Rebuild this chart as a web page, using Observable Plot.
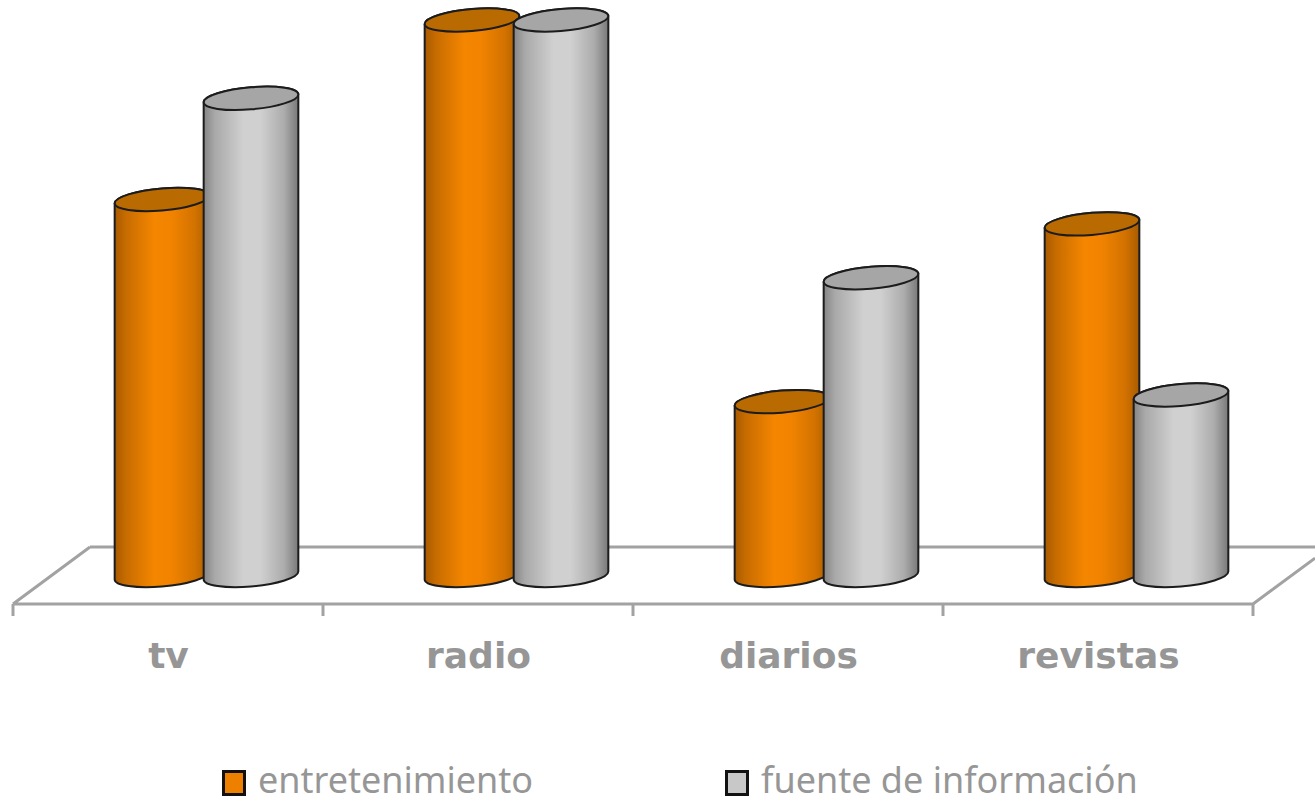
<!DOCTYPE html>
<html lang="es">
<head>
<meta charset="utf-8">
<script src="https://cdn.jsdelivr.net/npm/d3@7"></script>
<script src="https://cdn.jsdelivr.net/npm/@observablehq/plot@0.6"></script>
<style>
  html, body { margin: 0; padding: 0; background: #fff; }
  svg { display: block; }
  #leyenda { position: relative; width: 1315px; height: 48px; font: 36px "Noto Sans", sans-serif; color: #969696; }
  #leyenda span.item { position: absolute; top: 0; display: flex; align-items: center; height: 48px; white-space: nowrap; }
  #leyenda i { display: block; width: 24px; height: 26px; box-sizing: border-box; border: 3px solid #111; margin-right: 12px; position: relative; top: 4px; }
</style>
</head>
<body>
<div id="grafico"></div>
<div id="leyenda"></div>
<script>
// Medios y valores de cada serie
const medios = ["tv", "radio", "diarios", "revistas"];
const entretenimiento = [67.7, 100, 31.3, 63.3];
const informacion = [85.9, 100, 53.6, 32.5];
const series = ["entretenimiento", "fuente de información"];

const tablaEntretenimiento = medios.map((medio, i) => ({medio, valor: entretenimiento[i]}));
const tablaInformacion = medios.map((medio, i) => ({medio, valor: informacion[i]}));

// Inclinación y radios de las elipses de cada cilindro
const giro = -5;
const radioMayor = 47.5;
const radioMenor = 11;
const rad = giro * Math.PI / 180;
const semiancho = Math.hypot(radioMayor * Math.cos(rad), radioMenor * Math.sin(rad));
const desvio = (radioMayor ** 2 - radioMenor ** 2) * Math.sin(rad) * Math.cos(rad) / semiancho;

// Sustituye cada rectángulo de la barra por un cilindro con su tapa
function cilindro(colorTapa) {
  return (index, scales, values, dimensions, context, next) => {
    const g = next(index, scales, values, dimensions, context);
    for (const rect of [...g.querySelectorAll("rect")]) {
      const x = +rect.getAttribute("x"), w = +rect.getAttribute("width");
      const yTop = +rect.getAttribute("y"), yBase = yTop + +rect.getAttribute("height");
      const cx = x + w / 2;
      const x0 = cx - semiancho, x1 = cx + semiancho;
      const arco = (xa, ya) => `A${radioMayor} ${radioMenor} ${giro} 0 0 ${xa} ${ya}`;
      const cuerpo = document.createElementNS("http://www.w3.org/2000/svg", "path");
      cuerpo.setAttribute("d",
        `M${x0} ${yTop - desvio}L${x0} ${yBase - desvio}${arco(x1, yBase + desvio)}` +
        `L${x1} ${yTop + desvio}${arco(x0, yTop - desvio)}Z`);
      cuerpo.setAttribute("fill", rect.getAttribute("fill") || g.getAttribute("fill"));
      const tapa = document.createElementNS("http://www.w3.org/2000/svg", "path");
      tapa.setAttribute("d",
        `M${x0} ${yTop - desvio}${arco(x1, yTop + desvio)}${arco(x0, yTop - desvio)}Z`);
      tapa.setAttribute("fill", colorTapa);
      rect.replaceWith(cuerpo, tapa);
    }
    return g;
  };
}

// Degradados laterales de los cilindros
const degradados = () => {
  const defs = d3.create("svg:defs");
  const paradas = {
    naranja: [[0, "#a85a00"], [0.12, "#c76c00"], [0.42, "#f58600"], [0.6, "#f18300"], [0.85, "#d27200"], [1, "#a85c00"]],
    gris: [[0, "#858585"], [0.12, "#a9a9a9"], [0.42, "#d0d0d0"], [0.6, "#d0d0d0"], [0.85, "#acacac"], [1, "#787878"]]
  };
  for (const [id, lista] of Object.entries(paradas)) {
    const lg = defs.append("linearGradient").attr("id", id);
    for (const [o, c] of lista) lg.append("stop").attr("offset", o).attr("stop-color", c);
  }
  return defs.node();
};

// Piso en perspectiva con marcas entre categorías
const nivelFrente = -5.135;
const nivelFondo = 5.135;
const piso = (index, {x, y}, values, {width}) => {
  const izq = x(medios[0]);
  const der = x(medios[medios.length - 1]) + x.bandwidth();
  const yF = y(nivelFrente), yB = y(nivelFondo);
  const pendiente = 77 / (yF - yB);
  const alcance = (yF - yB) * pendiente;
  const g = d3.create("svg:g").attr("fill", "none").attr("stroke", "#a2a2a2").attr("stroke-width", 3);
  const xDer = Math.min(der + alcance, width);
  const yDer = yF - (xDer - der) / pendiente;
  g.append("path").attr("d",
    `M${izq + alcance} ${yB}L${width} ${yB}` +
    `M${izq} ${yF}L${izq + alcance} ${yB}` +
    `M${izq} ${yF}L${der} ${yF}L${xDer} ${yDer}`);
  for (const m of [...medios.map((d) => x(d)), der]) {
    g.append("path").attr("d", `M${m} ${yF}V${yF + 12}`);
  }
  return g.node();
};

const trazo = {stroke: "#1c1c1c", strokeWidth: 2};

const grafico = Plot.plot({
  width: 1315,
  height: 755,
  marginLeft: 13,
  marginRight: 62,
  marginTop: 0,
  marginBottom: 151,
  style: {background: "#fff"},
  x: {domain: medios, padding: 0, label: null},
  y: {domain: [0, 100], range: [575.5, 20], axis: null},
  marks: [
    degradados,
    piso,
    Plot.barY(tablaEntretenimiento, {
      x: "medio", y: "valor", fill: "url(#naranja)", ...trazo,
      insetLeft: 102, insetRight: 114, render: cilindro("#b96a00")
    }),
    Plot.barY(tablaInformacion, {
      x: "medio", y: "valor", fill: "url(#gris)", ...trazo,
      insetLeft: 191, insetRight: 25, render: cilindro("#a6a6a6")
    }),
    Plot.axisX({
      tickSize: 0, tickPadding: 38, label: null,
      fontSize: 36, fontWeight: "bold", fontFamily: "DejaVu Sans", fill: "#969696"
    })
  ]
});
document.getElementById("grafico").append(grafico);

// Leyenda
const muestras = ["#ee8000", "#c8c8c8"];
const posiciones = [222, 725];
const leyenda = document.getElementById("leyenda");
series.forEach((nombre, i) => {
  const item = document.createElement("span");
  item.className = "item";
  item.style.left = posiciones[i] + "px";
  const cuadro = document.createElement("i");
  cuadro.style.background = muestras[i];
  item.append(cuadro, nombre);
  leyenda.append(item);
});
</script>
</body>
</html>
